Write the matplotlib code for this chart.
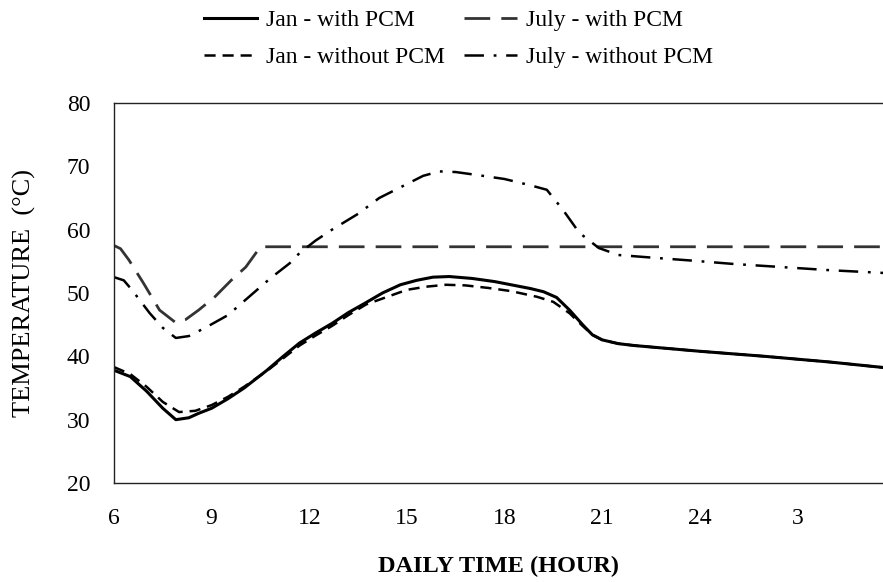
import matplotlib
matplotlib.use("Agg")
import matplotlib.pyplot as plt

plt.rcParams['font.family'] = ['Liberation Serif', 'DejaVu Serif']
plt.rcParams['lines.scale_dashes'] = False

# Data (hour of day; hours after 24 continue as 25, 26, ...)
jan_pcm_h = [6, 6.5, 7, 7.5, 7.9, 8.3, 8.6, 9, 9.5, 10, 10.7, 11.2, 11.7, 12.2, 12.7,
             13.2, 13.75, 14.25, 14.8, 15.3, 15.8, 16.3, 17, 17.7, 18.3, 18.8, 19.2,
             19.6, 20, 20.4, 20.7, 21, 21.5, 22, 24, 26, 28, 29.9]
jan_pcm_t = [37.8, 36.8, 34.5, 31.8, 30.0, 30.3, 31.0, 31.8, 33.3, 35.0, 37.8, 40.0,
             42.1, 43.7, 45.2, 46.9, 48.5, 50.0, 51.3, 52.0, 52.5, 52.6, 52.3, 51.8,
             51.2, 50.7, 50.2, 49.3, 47.3, 45.0, 43.4, 42.6, 42.0, 41.7, 40.8, 40.0,
             39.1, 38.1]

jan_nopcm_h = [6, 6.5, 7, 7.5, 8, 8.5, 9, 9.5, 10, 10.7, 11.2, 11.7, 12.2, 12.7, 13.2,
               13.75, 14.4, 15, 15.6, 16.2, 16.8, 17.5, 18.2, 19, 19.5, 20, 20.4, 20.7,
               21, 21.5, 22, 24, 26, 28, 29.9]
jan_nopcm_t = [38.3, 37.2, 35.2, 32.8, 31.2, 31.4, 32.3, 33.6, 35.2, 37.7, 39.7, 41.7,
               43.3, 44.8, 46.5, 48.2, 49.4, 50.5, 51.0, 51.3, 51.2, 50.8, 50.3, 49.4,
               48.6, 46.8, 44.8, 43.4, 42.6, 42.0, 41.7, 40.8, 40.0, 39.1, 38.1]

jul_pcm_h = [6, 6.2, 6.46, 6.9, 7.4, 7.9, 8.2, 8.6, 9.1, 9.6, 10.05, 10.5, 29.9]
jul_pcm_t = [57.5, 57.0, 55.2, 51.6, 47.3, 45.3, 45.8, 47.3, 49.4, 52.0, 54.1, 57.3, 57.3]

jul_nopcm_h = [6, 6.3, 6.55, 7.1, 7.5, 7.9, 8.3, 8.8, 9.5, 10.15, 10.8, 11.4, 11.7, 12.2,
               12.7, 13.5, 14.15, 15, 15.5, 16, 16.5, 17.2, 18, 18.8, 19.3, 19.8, 20.3,
               20.9, 21.5, 22.5, 23.8, 25, 26.5, 28, 29.9]
jul_nopcm_t = [52.5, 52.0, 50.5, 46.8, 44.5, 42.9, 43.2, 44.5, 46.5, 49.4, 52.3, 54.7,
               56.3, 58.3, 60.0, 62.5, 65.0, 67.2, 68.5, 69.2, 69.1, 68.6, 68.0, 67.0,
               66.3, 63.1, 59.5, 57.1, 56.0, 55.6, 55.1, 54.6, 54.1, 53.6, 53.1]

tick_pos = [6, 9, 12, 15, 18, 21, 24, 27]
tick_labels = ['6', '9', '12', '15', '18', '21', '24', '3']
y_ticks = [20, 30, 40, 50, 60, 70, 80]

fig = plt.figure(figsize=(8.83, 5.82), dpi=100)
ax = fig.add_axes([114/883, 1 - 483/582, (895 - 114)/883, (483 - 103)/582])

l2, = ax.plot(jan_nopcm_h, jan_nopcm_t, color='black', lw=1.8,
              linestyle=(0, (8, 5)), label='Jan - without PCM')
l1, = ax.plot(jan_pcm_h, jan_pcm_t, color='black', lw=2.2, linestyle='-',
              label='Jan - with PCM')
l3, = ax.plot(jul_pcm_h, jul_pcm_t, color='#333333', lw=2.0,
              linestyle=(0, (18.5, 8)), label='July - with PCM')
l4, = ax.plot(jul_nopcm_h, jul_nopcm_t, color='black', lw=1.8,
              linestyle=(0, (14, 7, 2, 7)), label='July - without PCM')

ax.set_xlim(6, 30)
ax.set_ylim(20, 80)
ax.set_xticks(tick_pos)
ax.set_xticklabels(tick_labels)
ax.set_yticks(y_ticks)
ax.tick_params(axis='both', length=0, labelsize=17)
ax.tick_params(axis='x', pad=18)
ax.tick_params(axis='y', pad=17)
for s in ['top', 'left', 'bottom', 'right']:
    ax.spines[s].set_linewidth(1.0)
    ax.spines[s].set_color('#222222')

ax.set_xlabel('DAILY TIME (HOUR)', fontsize=17.5, fontweight='bold')
ax.xaxis.set_label_coords((498 - 114) / (895 - 114), -(566 - 483) / (483 - 103))
ax.xaxis.label.set_va('center')
ax.set_ylabel('TEMPERATURE  (°C)', fontsize=19)
ax.yaxis.set_label_coords(-(114 - 24) / (895 - 114), 0.5)
ax.yaxis.label.set_va('center')

fig.legend(handles=[l1, l2, l3, l4], ncol=2, loc='upper center',
           bbox_to_anchor=(0.519, 1.0), frameon=False, fontsize=17,
           handlelength=2.25, handletextpad=0.38, columnspacing=0.8,
           labelspacing=0.66, borderaxespad=0.0)

fig.savefig('out.png', dpi=100)
